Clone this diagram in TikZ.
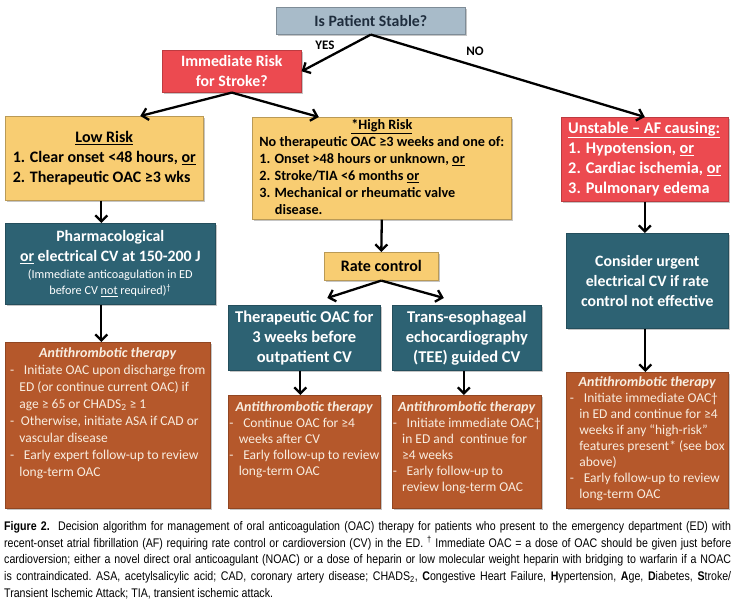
\documentclass[tikz,border=0pt]{standalone}
\usepackage{fontspec}
\setmainfont{Carlito}
\newfontfamily\capfont[FakeStretch=0.85]{Liberation Sans}
\usetikzlibrary{arrows.meta,shadows,calc}
\definecolor{cgray}{HTML}{A8BBC9}
\definecolor{cred}{HTML}{EC4A50}
\definecolor{cyellow}{HTML}{F8CD72}
\definecolor{cteal}{HTML}{2D6273}
\definecolor{corange}{HTML}{B5582B}
\definecolor{cantitext}{HTML}{F8EDE0}
\definecolor{cdark}{HTML}{1F2D3D}
\tikzset{
  base/.style={rectangle, inner sep=0pt, anchor=north west, line width=0.6pt,
    drop shadow={shadow xshift=1.5pt, shadow yshift=-1.5pt, opacity=0.45}},
  graybox/.style={base, fill=cgray, draw=cgray!75!black, text=cdark,
    font=\bfseries\fontsize{15.8}{19}\selectfont},
  redbox/.style={base, fill=cred, draw=cred!80!black, text=white, align=center,
    font=\bfseries\fontsize{15.8}{20}\selectfont},
  yellowbox/.style={base, fill=cyellow, draw=cyellow!75!black, text=black,
    font=\bfseries\fontsize{16}{20}\selectfont},
  tealbox/.style={base, fill=cteal, draw=cteal!80!black, text=white, align=center,
    font=\bfseries\fontsize{15.8}{20}\selectfont},
  antibox/.style={base, fill=corange, draw=corange!80!black},
  antitext/.style={anchor=north, inner sep=0pt, text=cantitext,
    font=\fontsize{13.5}{16}\selectfont},
  lbl/.style={font=\bfseries\fontsize{13}{15}\selectfont, inner sep=0pt},
  arr/.style={line width=2.3pt, -{Straight Barb[length=6pt,width=12pt]}}
}
\newcommand{\antihead}{{\fontsize{14}{16}\selectfont\textbf{\textit{Antithrombotic therapy}}}}
\newcommand{\ds}{-\hspace{0.5em}}
\newcommand{\cn}{\hspace*{0.7em}}
\newcommand{\smalltxt}[1]{{\mdseries\fontsize{12.2}{15}\selectfont #1}}
\begin{document}
\begin{tikzpicture}[x=1pt,y=-1pt]
\useasboundingbox (0,0) rectangle (736,605);
\fill[white] (0,0) rectangle (736,605);

% top row
\node[graybox, minimum width=189pt, minimum height=27pt] (top) at (276,7) {Is Patient Stable?};
\node[redbox, minimum width=139pt, minimum height=42pt] (risk) at (162,50) {Immediate Risk\\for Stroke?};

% second row
\node[yellowbox, minimum width=198pt, minimum height=84pt] (low) at (5,116)
 {\begin{tabular}{@{}l@{}}\multicolumn{1}{@{}c@{}}{\underline{Low Risk}}\\
  1. Clear onset <48 hours, \underline{or}\\
  2. Therapeutic OAC ≥3 wks\end{tabular}};
\node[yellowbox, minimum width=259pt, minimum height=100pt, font=\bfseries\fontsize{14.2}{17}\selectfont] (high) at (252,117)
 {\begin{tabular}{@{}l@{}}\multicolumn{1}{@{}c@{}}{\underline{*High Risk}}\\
  No therapeutic OAC ≥3 weeks and one of:\\
  1. Onset >48 hours or unknown, \underline{or}\\
  2. Stroke/TIA <6 months \underline{or}\\
  3. Mechanical or rheumatic valve\\
  \hspace*{1.1em}disease.\end{tabular}};
\node[redbox, minimum width=167pt, minimum height=84pt, font=\bfseries\fontsize{16.3}{20}\selectfont] (unst) at (561,117)
 {\begin{tabular}{@{}l@{}}\underline{Unstable -- AF causing:}\\
  1. Hypotension, \underline{or}\\
  2. Cardiac ischemia, \underline{or}\\
  3. Pulmonary edema\end{tabular}};

% third row
\node[tealbox, minimum width=210pt, minimum height=81pt] (pharma) at (5,223)
 {Pharmacological\\\underline{or} electrical CV at 150-200 J\\[-3pt]
  \smalltxt{(Immediate anticoagulation in ED}\\[-4pt]
  \smalltxt{before CV \underline{not} required)\textsuperscript{†}}};
\node[yellowbox, minimum width=114pt, minimum height=28pt] (rate) at (324,252) {Rate control};
\node[tealbox, minimum width=162pt, minimum height=95pt] (urgent) at (566,233)
 {Consider urgent\\electrical CV if rate\\control not effective};
\node[tealbox, minimum width=152pt, minimum height=65pt, font=\bfseries\fontsize{16.5}{20}\selectfont] (ther) at (228,305)
 {Therapeutic OAC for\\3 weeks before\\outpatient CV};
\node[tealbox, minimum width=149pt, minimum height=65pt, font=\bfseries\fontsize{16.5}{20}\selectfont] (tee) at (392,305)
 {Trans-esophageal\\echocardiography\\(TEE) guided CV};

% antithrombotic boxes
\node[antibox, minimum width=205pt, minimum height=166pt] (antiL) at (5,342) {};
\node[antibox, minimum width=152pt, minimum height=113pt] (antiM) at (228,395) {};
\node[antibox, minimum width=149pt, minimum height=113pt] (antiN) at (392,395) {};
\node[antibox, minimum width=162pt, minimum height=136pt] (antiR) at (566,372) {};

\node[antitext, font=\fontsize{13.5}{17}\selectfont] (antiLt) at ([yshift=-3pt]antiL.north)
 {\begin{tabular}{@{}l@{}}\multicolumn{1}{@{}c@{}}{\antihead}\\
  \ds\ Initiate OAC upon discharge from\\
  \cn ED (or continue current OAC) if\\
  \cn age ≥ 65 or CHADS\textsubscript{2} ≥ 1\\
  \ds Otherwise, initiate ASA if CAD or\\
  \cn vascular disease\\
  \ds\ Early expert follow-up to review\\
  \cn long-term OAC\end{tabular}};
\node[antitext] (antiMt) at ([yshift=-5pt]antiM.north)
 {\begin{tabular}{@{}l@{}}\multicolumn{1}{@{}c@{}}{\antihead}\\
  \ds\ Continue OAC for ≥4\\
  \cn weeks after CV\\
  \ds\ Early follow-up to review\\
  \cn long-term OAC\end{tabular}};
\node[antitext] (antiNt) at ([yshift=-5pt]antiN.north)
 {\begin{tabular}{@{}l@{}}\multicolumn{1}{@{}c@{}}{\antihead}\\
  \ds\ Initiate immediate OAC†\\
  \cn in ED and\ \ continue for\\
  \cn ≥4 weeks\\
  \ds\ Early follow-up to\\
  \cn review long-term OAC\end{tabular}};
\node[antitext] (antiRt) at ([yshift=-3pt]antiR.north)
 {\begin{tabular}{@{}l@{}}\multicolumn{1}{@{}c@{}}{\antihead}\\
  \ds\ Initiate immediate OAC†\\
  \cn in ED and continue for ≥4\\
  \cn weeks if any “high-risk”\\
  \cn features present* (see box\\
  \cn above)\\
  \ds\ Early follow-up to review\\
  \cn long-term OAC\end{tabular}};

% labels
\node[lbl] (yes) at (325,45) {YES};
\node[lbl] (no) at (475,51) {NO};

% connectors
\draw[arr] (top.south) -- (risk.east);
\draw[arr] (top.south) -- (unst.north);
\draw[arr] (risk.south) -- ([xshift=36pt]low.north);
\draw[arr] (risk.south) -- ([xshift=-63pt]high.north);
\draw[arr] ([xshift=-3pt]low.south) -- ([xshift=-3pt]low.south |- pharma.north);
\draw[arr] ([xshift=-3pt]low.south |- pharma.south) -- ([xshift=-3pt]low.south |- antiL.north);
\draw[arr] (high.south) -- (rate.north);
\draw[arr] (rate.south) -- ([xshift=23pt,yshift=7pt]ther.north);
\draw[arr] (rate.south) -- ([xshift=-23pt,yshift=7pt]tee.north);
\draw[arr] ([xshift=-4pt]ther.south) -- ([xshift=-4pt]antiM.north);
\draw[arr] ([xshift=-3pt]tee.south) -- ([xshift=-3pt]antiN.north);
\draw[arr] (unst.south) -- (unst.south |- urgent.north);
\draw[arr] ([xshift=-2pt]urgent.south) -- ([xshift=-2pt]antiR.north);

% caption
\node[anchor=north west, inner sep=0pt, align=left, font=\capfont\frenchspacing\fontsize{12.5}{16.8}\selectfont] (cap) at (4,521)
 {\makebox[727pt][s]{\textbf{Figure 2.}\ \ Decision algorithm for management of oral anticoagulation (OAC) therapy for patients who present to the emergency department (ED) with}\\
  \makebox[727pt][s]{recent-onset atrial fibrillation (AF) requiring rate control or cardioversion (CV) in the ED. \textsuperscript{†} Immediate OAC = a dose of OAC should be given just before}\\
  \makebox[727pt][s]{cardioversion; either a novel direct oral anticoagulant (NOAC) or a dose of heparin or low molecular weight heparin with bridging to warfarin if a NOAC}\\
  \makebox[727pt][s]{is contraindicated. ASA, acetylsalicylic acid; CAD, coronary artery disease; CHADS\textsubscript{2}, \textbf{C}ongestive Heart Failure, \textbf{H}ypertension, \textbf{A}ge, \textbf{D}iabetes, \textbf{S}troke/}\\
  Transient Ischemic Attack; TIA, transient ischemic attack.};
\end{tikzpicture}
\end{document}
